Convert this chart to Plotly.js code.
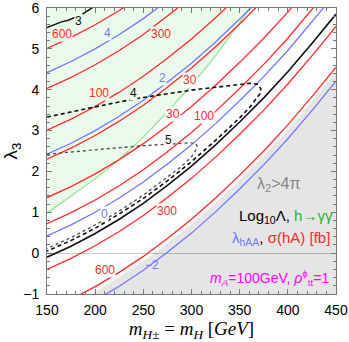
<!DOCTYPE html>
<html>
<head>
<meta charset="utf-8">
<script src="https://cdn.plot.ly/plotly-3.0.1.min.js"></script>
<style>
  html, body { margin: 0; padding: 0; background: #fff; }
  #chart { width: 349px; height: 342px; }
</style>
</head>
<body>
<div id="chart"></div>
<script>
// masses along the x axis (GeV)
const xGrid = [150, 175, 200, 225, 250, 275, 300, 325, 350, 375, 400, 425, 450];

// sigma(hA) [fb] contours
const sig600a = [5.01, 5.28, 5.59, 5.94, 6.33];
const sig300a = [4.03, 4.30, 4.61, 4.96, 5.35, 5.79, 6.26];
const sig100a = [3.01, 3.28, 3.59, 3.94, 4.33, 4.77, 5.24, 5.76, 6.32];
const sig30a = [2.30, 2.57, 2.88, 3.23, 3.62, 4.06, 4.53, 5.05, 5.61, 6.20];
const sig30b = [1.36, 1.63, 1.94, 2.29, 2.68, 3.12, 3.59, 4.11, 4.67, 5.26, 5.90, 6.59];
const sig100b = [0.72, 0.99, 1.30, 1.65, 2.04, 2.48, 2.95, 3.47, 4.03, 4.62, 5.26, 5.95, 6.67];
const sig300b = [-0.40, -0.13, 0.18, 0.53, 0.92, 1.36, 1.83, 2.35, 2.91, 3.50, 4.14, 4.83, 5.55];
const sig600b = [-1.40, -1.13, -0.82, -0.47, -0.08, 0.36, 0.83, 1.35, 1.91, 2.50, 3.14, 3.83, 4.55];

// lambda_hAA contours
const lam4 = [4.42, 4.69, 5.00, 5.35, 5.74, 6.18];
const lam2 = [2.42, 2.69, 3.00, 3.35, 3.74, 4.18, 4.65, 5.17, 5.73, 6.32];
const lam0 = [0.42, 0.69, 1.00, 1.35, 1.74, 2.18, 2.65, 3.17, 3.73, 4.32, 4.96, 5.65, 6.37];
const lamM2 = [-1.74, -1.47, -1.16, -0.81, -0.42, 0.02, 0.49, 1.01, 1.57, 2.16, 2.80, 3.49, 4.21];

// Log10 Lambda = 3 (two pieces)
const log3aX = [150, 157, 165, 172, 180, 186, 192, 198];
const log3aY = [5.52, 5.58, 5.66, 5.70, 5.79, 5.84, 5.93, 6.02];
const log3b = [-0.10, 0.17, 0.48, 0.83, 1.22, 1.66, 2.13, 2.65, 3.21, 3.80, 4.44, 5.13, 5.85];

// Log10 Lambda = 4 (dashed) and 5 (dotted) closed hooks
const log4X = [150, 175, 200, 225, 250, 275, 300, 325, 350, 362, 369, 372, 371, 366, 360, 350, 340, 325, 300, 275, 250, 225, 200, 175, 150];
const log4Y = [3.33, 3.46, 3.58, 3.70, 3.81, 3.90, 3.99, 4.06, 4.13, 4.16, 4.13, 4.02, 3.90, 3.74, 3.56, 3.31, 3.08, 2.76, 2.24, 1.77, 1.34, 0.96, 0.61, 0.31, 0.05];
const log5X = [150, 175, 205, 250, 280, 298, 304, 306, 304, 300, 290, 275, 250, 225, 200, 175, 150];
const log5Y = [2.42, 2.48, 2.54, 2.63, 2.68, 2.70, 2.69, 2.62, 2.50, 2.36, 2.13, 1.86, 1.42, 1.03, 0.69, 0.38, 0.11];

// h -> gamma gamma allowed boundary
const gamX = [150, 175, 200, 225, 250, 275, 300, 325, 350, 370];
const gamY = [0.98, 1.39, 1.82, 2.29, 2.84, 3.46, 4.11, 4.83, 5.63, 6.30];

// lambda2 > 4 pi boundary
const lam2Edge = [-1.52, -1.25, -0.94, -0.59, -0.20, 0.24, 0.71, 1.23, 1.79, 2.38, 3.02, 3.71, 4.43];

const xRange = [150, 450];
const yRange = [-1, 6];

const RED = "#ff2a2a";
const BLUE = "#6f78ff";
const GREEN_LINE = "#96e696";

const curve = (y, color, extra = {}) => ({
  x: xGrid.slice(0, y.length),
  y: y,
  type: "scatter",
  mode: "lines",
  line: Object.assign({ color: color, width: 1.3 }, extra),
  hoverinfo: "skip",
});

const traces = [
  {
    x: [xRange[0]].concat(gamX),
    y: [yRange[1]].concat(gamY),
    type: "scatter",
    mode: "lines",
    fill: "toself",
    fillcolor: "rgba(120,230,120,0.15)",
    line: { width: 0 },
    hoverinfo: "skip",
  },
  {
    x: xGrid.concat([xRange[1]]),
    y: lam2Edge.concat([yRange[0] - 1]),
    type: "scatter",
    mode: "lines",
    fill: "toself",
    fillcolor: "rgba(0,0,0,0.1)",
    line: { width: 0 },
    hoverinfo: "skip",
  },
  { x: gamX, y: gamY, type: "scatter", mode: "lines", line: { color: GREEN_LINE, width: 1.3 }, hoverinfo: "skip" },
  curve(sig600a, RED),
  curve(sig300a, RED),
  curve(sig100a, RED),
  curve(sig30a, RED),
  curve(sig30b, RED),
  curve(sig100b, RED),
  curve(sig300b, RED),
  curve(sig600b, RED),
  curve(lam4, BLUE),
  curve(lam2, BLUE),
  curve(lam0, BLUE),
  curve(lamM2, BLUE),
  { x: log3aX, y: log3aY, type: "scatter", mode: "lines", line: { color: "#111", width: 1.4 }, hoverinfo: "skip" },
  curve(log3b, "#111", { width: 1.6 }),
  { x: log4X, y: log4Y, type: "scatter", mode: "lines", line: { color: "#111", width: 1.6, dash: "4px,3px" }, hoverinfo: "skip" },
  { x: log5X, y: log5Y, type: "scatter", mode: "lines", line: { color: "#555", width: 1.4, dash: "dot" }, hoverinfo: "skip" },
];

const GREEN_BG = "#ebfbeb";
const label = (x, y, text, color, bg) => ({
  x: x,
  y: y,
  text: text,
  showarrow: false,
  font: { family: "Liberation Sans", size: 12, color: color },
  bgcolor: bg || "rgba(0,0,0,0)",
  borderpad: 0,
});

const annotations = [
  label(183.2, 5.68, "3", "#111", GREEN_BG),
  label(165.6, 5.36, "600", RED, GREEN_BG),
  label(213.3, 5.39, "4", BLUE, GREEN_BG),
  label(268.3, 5.36, "300", RED, GREEN_BG),
  label(204, 3.91, "100", RED, GREEN_BG),
  label(239.3, 3.91, "4", "#111", GREEN_BG),
  label(269.4, 4.29, "2", BLUE, GREEN_BG),
  label(298.4, 4.25, "30", RED, "#fff"),
  label(280.8, 3.40, "30", RED, "#fff"),
  label(313, 3.35, "100", RED, "#fff"),
  label(276.6, 2.77, "5", "#111", "#fff"),
  label(210.2, 0.97, "0", BLUE, "#fff"),
  label(274.6, 1.04, "300", RED, "#fff"),
  label(210.2, -0.41, "600", RED, "#fff"),
  label(259, -0.29, "\u22122", BLUE),
  {
    x: 391, y: 1.67, text: "\u03bb<sub>2</sub>>4\u03c0", showarrow: false,
    font: { family: "Liberation Sans", size: 16, color: "#858585" },
  },
  {
    x: 449, y: 0.89, xanchor: "right", showarrow: false,
    text: "Log<sub>10</sub>\u039b, <span style='color:#1fb51f'>h\u2192\u03b3\u03b3</span>",
    font: { family: "Liberation Sans", size: 15, color: "#000" },
  },
  {
    x: 446, y: 0.36, xanchor: "right", showarrow: false,
    text: "<span style='color:#6f78ff'>\u03bb<sub>hAA</sub></span>, <span style='color:#ff2a2a'>\u03c3(hA) [fb]</span>",
    font: { family: "Liberation Sans", size: 15, color: "#000" },
  },
  {
    x: 445, y: -0.61, xanchor: "right", showarrow: false,
    text: "<i>m<sub>A</sub></i>=100GeV, <i>\u03c1</i><sup>\u03d5</sup><sub>tt</sub>=1",
    font: { family: "Liberation Sans", size: 14, color: "#ff00ff" },
  },
];

const axisBase = {
  showgrid: false,
  showline: true,
  linecolor: "#777",
  linewidth: 1,
  mirror: "ticks",
  ticks: "inside",
  ticklen: 5,
  tickcolor: "#777",
  ticklabeloverflow: "allow",
  tickfont: { family: "Liberation Sans", size: 14, color: "#000" },
};

const layout = {
  width: 349,
  height: 342,
  margin: { l: 47, r: 13, t: 8, b: 48 },
  paper_bgcolor: "#fff",
  plot_bgcolor: "#fff",
  showlegend: false,
  xaxis: Object.assign({}, axisBase, {
    range: xRange,
    dtick: 50,
    zeroline: false,
    minor: { dtick: 10, ticks: "inside", ticklen: 3, tickcolor: "#777" },
    ticklabelstandoff: 3,
    title: {
      text: "<i>m</i><sub><i>H</i>\u00b1</sub> = <i>m<sub>H</sub></i> [<i>GeV</i>]",
      font: { family: "Liberation Serif", size: 19, color: "#000" },
      standoff: 6,
    },
  }),
  yaxis: Object.assign({}, axisBase, {
    range: yRange,
    dtick: 1,
    zeroline: true,
    zerolinecolor: "#c8c8c8",
    zerolinewidth: 1,
    minor: { dtick: 0.2, ticks: "inside", ticklen: 3, tickcolor: "#777" },
    ticklabelstandoff: 4,
    title: {
      text: "\u03bb<sub>3</sub>",
      font: { family: "Liberation Sans", size: 19, color: "#000" },
      standoff: 6,
    },
  }),
  annotations: annotations,
};

Plotly.newPlot("chart", traces, layout, { displayModeBar: false, staticPlot: true });
</script>
</body>
</html>
